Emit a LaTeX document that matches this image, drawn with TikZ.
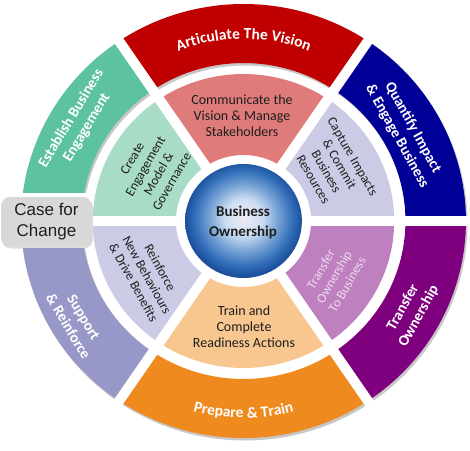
\documentclass[tikz,border=0pt]{standalone}
\usepackage{fontspec}
\setmainfont{Carlito}
\newfontfamily\casefont{Liberation Sans}
\usetikzlibrary{decorations.text,shadows}
\definecolor{cRed}{HTML}{C00000}
\definecolor{cBlue}{HTML}{000096}
\definecolor{cPurple}{HTML}{7E007E}
\definecolor{cOrange}{HTML}{EF8A1E}
\definecolor{cLav}{HTML}{9898C8}
\definecolor{cGreen}{HTML}{5CC2A2}
\definecolor{iPink}{HTML}{E07B7B}
\definecolor{iLav}{HTML}{CBCBE5}
\definecolor{iPurple}{HTML}{BE80BE}
\definecolor{iPeach}{HTML}{F8C790}
\definecolor{iGreen}{HTML}{A8DCC6}
\definecolor{iText}{HTML}{1E1E1E}
\definecolor{paleText}{HTML}{EEDCEE}
\definecolor{boxGray}{HTML}{D8D8D8}
\pgfdeclareradialshading{bizball}{\pgfpoint{0bp}{2bp}}{%
  color(0bp)=({rgb,255:red,240;green,236;blue,244});
  color(8bp)=({rgb,255:red,205;green,222;blue,242});
  color(15bp)=({rgb,255:red,115;green,160;blue,212});
  color(21bp)=({rgb,255:red,50;green,110;blue,185});
  color(25bp)=({rgb,255:red,28;green,80;blue,155});
  color(50bp)=({rgb,255:red,28;green,80;blue,155})}
\newcommand\ringseg[5]{\fill[#1] (#2:#4) arc[start angle=#2,end angle=#3,radius=#4] -- (#3:#5) arc[start angle=#3,end angle=#2,radius=#5] -- cycle;}
\newcommand\outfont{\bfseries\fontsize{15}{18}\selectfont}
\newcommand\arcfont{\bfseries\fontsize{15.5}{18}\selectfont}
\tikzset{
  outertext/.style={text=white, font=\outfont, align=center, inner sep=0pt},
  innertext/.style={text=iText, font=\fontsize{14}{16}\selectfont, align=center, inner sep=0pt},
  innerrot/.style={text=iText, font=\fontsize{13.2}{15.2}\selectfont, align=center, inner sep=0pt},
  gapline/.style={white, line width=10pt},
  casebox/.style={fill=boxGray, rounded corners=9pt, minimum width=91pt, minimum height=50pt, inner sep=0pt, text=iText, font=\casefont\fontsize{17}{21}\selectfont, align=center, drop shadow={opacity=0.25, shadow xshift=1pt, shadow yshift=-1.5pt}}
}
\begin{document}
\begin{tikzpicture}[x=1pt,y=1pt]
\useasboundingbox (0,0) rectangle (470,450);
\fill[white] (0,0) rectangle (470,450);
\begin{scope}[shift={(243.5,229)}, xscale=1.025]
  % soft shadow
  \begin{scope}[shift={(1.5,-2.5)}]
    \ringseg{black!22}{0}{360}{158}{217}
  \end{scope}
  % outer ring
  \ringseg{cBlue}{0}{56}{158}{217}
  \ringseg{cRed}{56}{124}{158}{217}
  \ringseg{cGreen}{124}{180}{158}{217}
  \ringseg{cLav}{180}{236}{158}{217}
  \ringseg{cOrange}{236}{304}{158}{217}
  \ringseg{cPurple}{304}{360}{158}{217}
  % inner ring
  \ringseg{iLav}{0}{56}{66}{147}
  \ringseg{iPink}{56}{124}{66}{147}
  \ringseg{iGreen}{124}{180}{66}{147}
  \ringseg{iLav}{180}{236}{66}{147}
  \ringseg{iPeach}{236}{304}{66}{147}
  \ringseg{iPurple}{304}{360}{66}{147}
  % gaps
  \foreach \a in {0,56,124,180,236,304} \draw[gapline] (0,0) -- (\a:232);
  \fill[white] (-240,-27) rectangle (-152,28);
  % centre
  \shade[shading=bizball] (0,0) circle[radius=57];
\end{scope}
\begin{scope}[shift={(243.5,229)}]
  \path[decorate, decoration={text along path, text align=center,
     text={|\arcfont\color{white}|Articulate The Vision}}]
     (125:182) arc[start angle=125, end angle=55, radius=182];
  \path[decorate, decoration={text along path, text align=center,
     text={|\arcfont\color{white}|Prepare {\&} Train}}]
     (235:197) arc[start angle=235, end angle=305, radius=197];
\end{scope}
% outer ring side labels
\node[outertext, rotate=59] (establish) at (79,327) {Establish Business\\Engagement};
\node[outertext, rotate=-61] (quantify) at (405,318) {Quantify Impact\\\& Engage Business};
\node[outertext, rotate=61] (transfer) at (411,138) {Transfer\\Ownership};
\node[outertext, rotate=-59] (support) at (76,128) {Support\\\& Reinforce};
% inner ring labels
\node[innertext] (communicate) at (242,334) {Communicate the\\Vision \& Manage\\Stakeholders};
\node[innerrot, rotate=-60] (capture) at (333,282) {Capture Impacts\\\& Commit\\Business\\Resources};
\node[innerrot, rotate=60, text=paleText] (tobusiness) at (334,173) {Transfer\\Ownership\\To Business};
\node[innertext] (train) at (244,123) {Train and\\Complete\\Readiness Actions};
\node[innerrot, rotate=-61] (reinforce) at (147,175) {Reinforce\\New Behaviours\\\& Drive Benefits};
\node[innerrot, rotate=60] (create) at (152,280) {Create\\Engagement\\Model \&\\Governance};
% centre
\node[text=iText, font=\bfseries\fontsize{15}{20}\selectfont, align=center, inner sep=0pt] (owner) at (243,228) {Business\\Ownership};
% case for change
\node[casebox] (case) at (46.5,228) {Case for\\Change};
\end{tikzpicture}
\end{document}
